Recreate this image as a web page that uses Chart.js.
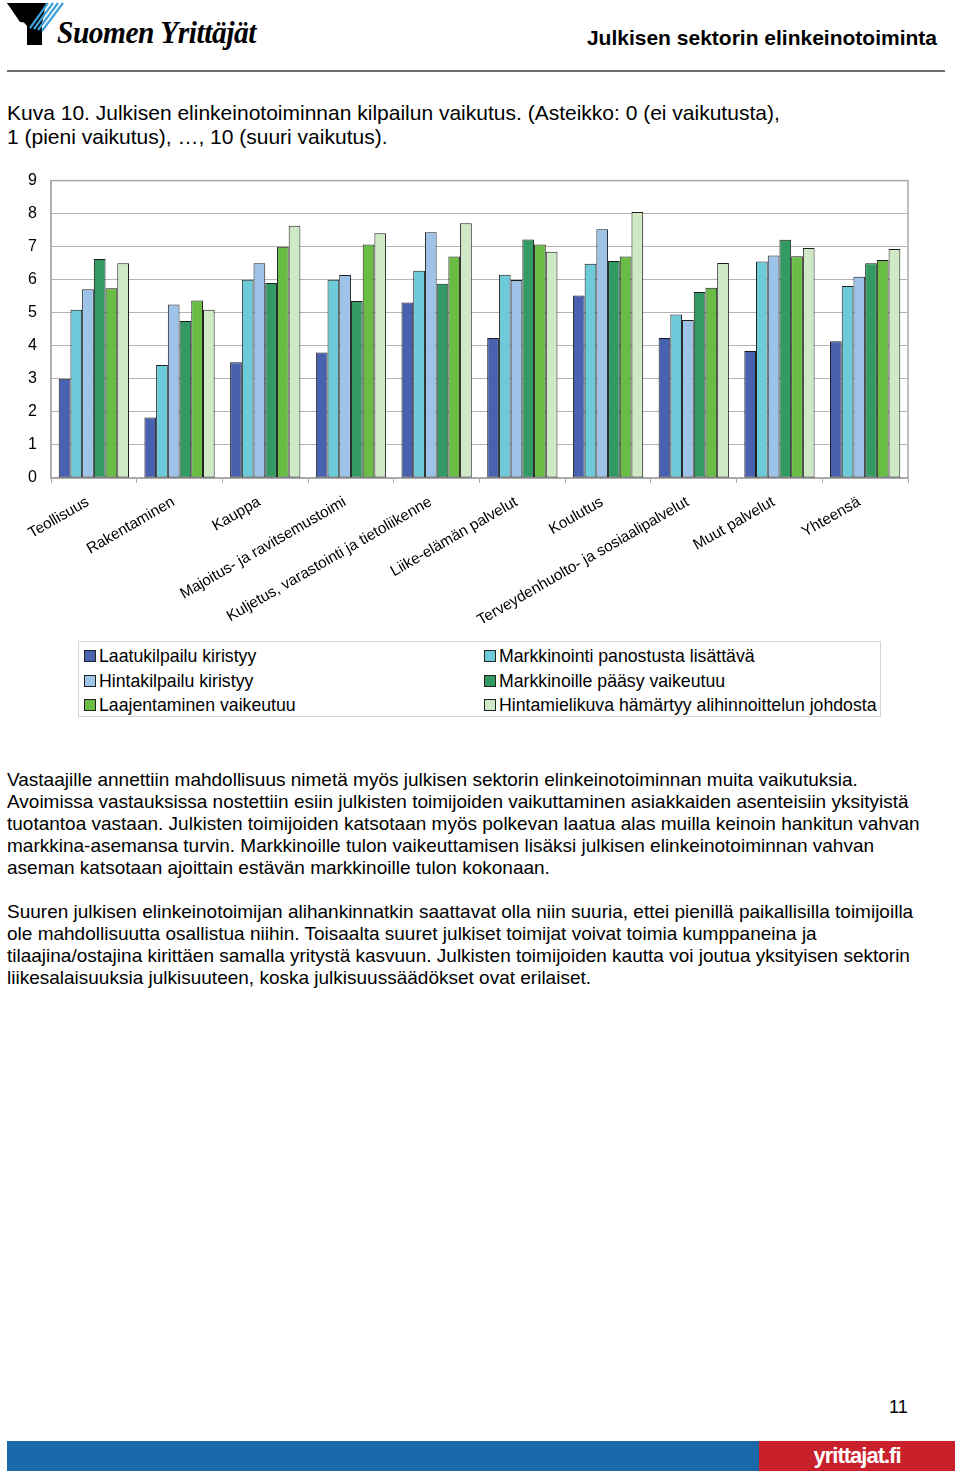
<!DOCTYPE html>
<html>
<head>
<meta charset="utf-8">
<script src="https://cdn.jsdelivr.net/npm/chart.js@4.4.1/dist/chart.umd.min.js"></script>
<style>
  body { margin: 0; width: 960px; height: 1472px; position: relative; background: #fff; font-family: Arial, "Liberation Sans", sans-serif; color: #000; overflow: hidden; }
  .abs { position: absolute; white-space: nowrap; }
  #logoText { left: 57px; top: 15px; font-family: "Liberation Serif", serif; font-weight: bold; font-style: italic; font-size: 31px; transform: scaleX(0.95); transform-origin: left top; letter-spacing: -0.5px; }
  #docTitle { right: 23px; top: 26px; font-weight: bold; font-size: 21px; }
  #rule { left: 7px; top: 70px; width: 938px; height: 2px; background: #6e6e6e; }
  #caption { left: 7px; top: 101px; font-size: 21px; line-height: 24px; }
  #chartBox { left: 0; top: 157px; width: 930px; height: 483px; }
  #legend { left: 78px; top: 641px; width: 801px; height: 74px; border: 1px solid #d4d4d4; }
  .lg { position: absolute; font-size: 17.7px; line-height: 20px; }
  .lg i { display: inline-block; width: 10px; height: 10px; border: 1px solid #222; margin-right: 3px; vertical-align: 0px; }
  #body { left: 7px; top: 769px; font-size: 19px; line-height: 22px; }
  #pageNo { left: 889px; top: 1397px; font-size: 18px; }
  #barBlue { left: 7px; top: 1441px; width: 752px; height: 30px; background: #1b69aa; }
  #barRed { left: 759px; top: 1441px; width: 196px; height: 30px; background: #c8212b; color: #fff; font-weight: bold; font-size: 22px; line-height: 30px; text-align: center; letter-spacing: -1px; }
</style>
</head>
<body>
<svg class="abs" style="left:0;top:0" width="70" height="50">
  <polygon points="7,3 46,3 27,26 27,45 42,45 42,24 20,22" fill="#000"/>
  <polygon points="7,3 27,26 42,24 46,3" fill="#000"/>
  <g stroke="#3fa0d8" stroke-width="2.2">
    <line x1="48" y1="3" x2="30" y2="28"/>
    <line x1="53" y1="3" x2="34" y2="29"/>
    <line x1="58" y1="3" x2="38" y2="30"/>
    <line x1="63" y1="3" x2="42" y2="31"/>
  </g>
</svg>
<div id="logoText" class="abs">Suomen Yrittäjät</div>
<div id="docTitle" class="abs">Julkisen sektorin elinkeinotoiminta</div>
<div id="rule" class="abs"></div>
<div id="caption" class="abs">Kuva 10. Julkisen elinkeinotoiminnan kilpailun vaikutus. (Asteikko: 0 (ei vaikutusta),<br>1 (pieni vaikutus), …, 10 (suuri vaikutus).</div>

<div id="chartBox" class="abs"><canvas id="chart" width="930" height="483"></canvas></div>
<div id="legend" class="abs"></div>

<div id="body" class="abs">Vastaajille annettiin mahdollisuus nimetä myös julkisen sektorin elinkeinotoiminnan muita vaikutuksia.<br>Avoimissa vastauksissa nostettiin esiin julkisten toimijoiden vaikuttaminen asiakkaiden asenteisiin yksityistä<br>tuotantoa vastaan. Julkisten toimijoiden katsotaan myös polkevan laatua alas muilla keinoin hankitun vahvan<br>markkina-asemansa turvin. Markkinoille tulon vaikeuttamisen lisäksi julkisen elinkeinotoiminnan vahvan<br>aseman katsotaan ajoittain estävän markkinoille tulon kokonaan.<br><br>Suuren julkisen elinkeinotoimijan alihankinnatkin saattavat olla niin suuria, ettei pienillä paikallisilla toimijoilla<br>ole mahdollisuutta osallistua niihin. Toisaalta suuret julkiset toimijat voivat toimia kumppaneina ja<br>tilaajina/ostajina kirittäen samalla yritystä kasvuun. Julkisten toimijoiden kautta voi joutua yksityisen sektorin<br>liikesalaisuuksia julkisuuteen, koska julkisuussäädökset ovat erilaiset.</div>

<div id="pageNo" class="abs">11</div>
<div id="barBlue" class="abs"></div>
<div id="barRed" class="abs">yrittajat.fi</div>

<script>
const categories = ['Teollisuus', 'Rakentaminen', 'Kauppa', 'Majoitus- ja ravitsemustoimi',
  'Kuljetus, varastointi ja tietoliikenne', 'Liike-elämän palvelut', 'Koulutus',
  'Terveydenhuolto- ja sosiaalipalvelut', 'Muut palvelut', 'Yhteensä'];

const seriesNames = ['Laatukilpailu kiristyy', 'Markkinointi panostusta lisättävä', 'Hintakilpailu kiristyy',
  'Markkinoille pääsy vaikeutuu', 'Laajentaminen vaikeutuu', 'Hintamielikuva hämärtyy alihinnoittelun johdosta'];

const laatukilpailu  = [3.0, 1.83, 3.5, 3.8, 5.31, 4.24, 5.52, 4.24, 3.84, 4.14];
const markkinointi   = [5.09, 3.42, 6.0, 6.0, 6.27, 6.15, 6.48, 4.95, 6.55, 5.81];
const hintakilpailu  = [5.71, 5.25, 6.5, 6.14, 7.44, 5.99, 7.53, 4.78, 6.73, 6.09];
const markkinoille   = [6.63, 4.75, 5.9, 5.36, 5.88, 7.22, 6.57, 5.63, 7.21, 6.5];
const laajentaminen  = [5.74, 5.37, 7.0, 7.07, 6.7, 7.07, 6.7, 5.76, 6.71, 6.6];
const hintamielikuva = [6.5, 5.09, 7.63, 7.41, 7.71, 6.85, 8.05, 6.51, 6.96, 6.93];

const yTicks = [0, 1, 2, 3, 4, 5, 6, 7, 8, 9];

const colors = ['#4862b0', '#6ccad9', '#9ec3e8', '#349a64', '#69bd45', '#cfe8c6'];
const values = [laatukilpailu, markkinointi, hintakilpailu, markkinoille, laajentaminen, hintamielikuva];

Chart.defaults.font.family = 'Arial, "Liberation Sans", sans-serif';
Chart.defaults.color = '#000';

// gray frame round the plot area
const frame = {
  id: 'frame',
  beforeDatasetsDraw(chart) {
    let a = chart.chartArea, ctx = chart.ctx;
    ctx.save();
    ctx.strokeStyle = '#a8a8a8';
    ctx.lineWidth = 1.5;
    ctx.strokeRect(a.left, a.top, a.right - a.left, a.bottom - a.top);
    ctx.restore();
  }
};

let chart = new Chart(document.getElementById('chart'), {
  type: 'bar',
  data: {
    labels: categories,
    datasets: seriesNames.map((name, i) => ({
      label: name,
      data: values[i],
      backgroundColor: colors[i],
      borderColor: '#1c1c1c',
      borderWidth: 1,
      borderSkipped: false,
      categoryPercentage: 0.82,
      barPercentage: 1.0
    }))
  },
  options: {
    responsive: false,
    animation: false,
    layout: { padding: { top: 2, right: 22, left: 0, bottom: 0 } },
    plugins: { legend: { display: false }, tooltip: { enabled: false } },
    scales: {
      y: {
        min: 0, max: 9,
        afterBuildTicks(scale) { scale.ticks = yTicks.map(v => ({ value: v })); },
        afterFit(scale) { scale.width = 51; },
        ticks: { font: { size: 16 }, padding: 14 },
        grid: { color: '#b4b4b4', lineWidth: 1, drawTicks: false },
        border: { color: '#a8a8a8', width: 1.5 }
      },
      x: {
        afterFit(scale) { scale.height = 162; },
        ticks: { font: { size: 15.3 }, minRotation: 30, maxRotation: 30, autoSkip: false, padding: 10, labelOffset: -6 },
        grid: { offset: true, drawOnChartArea: false, drawTicks: true, tickLength: 5, color: '#a8a8a8' },
        border: { color: '#a8a8a8', width: 1.5 }
      }
    }
  },
  plugins: [frame]
});

// legend: two columns, filled row by row
let legend = document.getElementById('legend');
chart.data.datasets.forEach((ds, i) => {
  let item = document.createElement('div');
  item.className = 'lg';
  item.style.left = (i % 2 ? 405 : 5) + 'px';
  item.style.top = (4 + Math.floor(i / 2) * 24.5) + 'px';
  item.innerHTML = `<i style="background:${ds.backgroundColor}"></i>${ds.label}`;
  legend.appendChild(item);
});
</script>
</body>
</html>
